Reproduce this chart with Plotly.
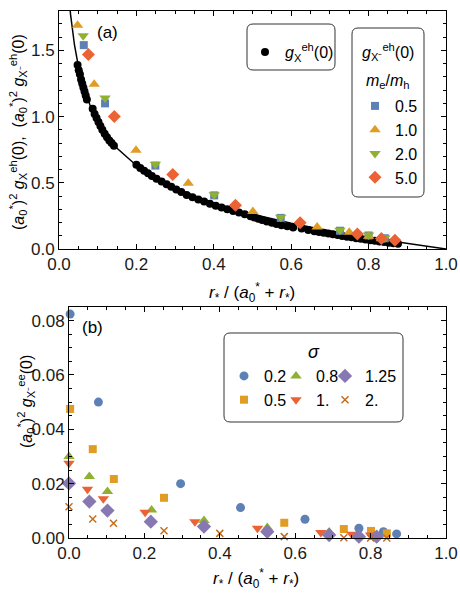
import plotly.graph_objects as go

# ---------------- data: panel (a) ----------------
curve_x = [0.025, 0.03, 0.04, 0.05, 0.06, 0.08, 0.10, 0.125, 0.15, 0.20, 0.25, 0.30,
           0.35, 0.40, 0.45, 0.50, 0.60, 0.70, 0.80, 0.90, 1.00]
curve_y = [1.927, 1.768, 1.541, 1.382, 1.262, 1.087, 0.964, 0.849, 0.761, 0.631, 0.536, 0.461,
           0.400, 0.348, 0.303, 0.263, 0.194, 0.136, 0.0854, 0.0405, 0.0]

dots_x = [0.048, 0.051, 0.054, 0.057, 0.060, 0.063, 0.066, 0.069, 0.072,
          0.087, 0.092, 0.097, 0.102, 0.107, 0.112, 0.118, 0.124, 0.130, 0.136, 0.142,
          0.200, 0.210, 0.220, 0.230, 0.240, 0.252, 0.265, 0.278, 0.290, 0.303, 0.316,
          0.330, 0.345, 0.360, 0.375, 0.390, 0.405, 0.420, 0.435, 0.450, 0.465, 0.480,
          0.495, 0.505, 0.515, 0.525, 0.537, 0.550, 0.562, 0.575, 0.590, 0.605, 0.627,
          0.644, 0.660, 0.672, 0.684, 0.696, 0.708, 0.720, 0.732, 0.744, 0.756, 0.768,
          0.780, 0.792, 0.804, 0.816, 0.828, 0.840, 0.852, 0.864, 0.876]
dots_y = [1.39, 1.35, 1.32, 1.28, 1.25, 1.22, 1.19, 1.16, 1.13,
          1.06, 1.02, 0.99, 0.96, 0.93, 0.90, 0.87, 0.845, 0.82, 0.80, 0.78,
          0.636, 0.612, 0.592, 0.572, 0.552, 0.530, 0.510, 0.490, 0.470, 0.450, 0.430,
          0.408, 0.391, 0.374, 0.358, 0.342, 0.327, 0.313, 0.300, 0.287, 0.275, 0.263,
          0.247, 0.238, 0.229, 0.219, 0.208, 0.198, 0.189, 0.180, 0.171, 0.163, 0.154,
          0.144, 0.135, 0.129, 0.123, 0.117, 0.111, 0.105, 0.099, 0.093, 0.088, 0.082,
          0.077, 0.072, 0.067, 0.062, 0.057, 0.052, 0.048, 0.043, 0.039]

ratio_labels = ["0.5", "1.0", "2.0", "5.0"]
ratio_x = [
    [0.064, 0.119, 0.249, 0.401, 0.573, 0.726, 0.800, 0.842],
    [0.048, 0.091, 0.199, 0.334, 0.501, 0.667, 0.750, 0.800, 0.833],
    [0.0625, 0.119, 0.249, 0.401, 0.573, 0.726, 0.800, 0.842],
    [0.076, 0.143, 0.294, 0.456, 0.623, 0.771, 0.833, 0.868],
]
ratio_y = [
    [1.54, 1.10, 0.63, 0.405, 0.235, 0.138, 0.102, 0.081],
    [1.69, 1.245, 0.745, 0.497, 0.283, 0.166, 0.126, 0.097, 0.078],
    [1.61, 1.14, 0.64, 0.41, 0.240, 0.142, 0.105, 0.083],
    [1.47, 1.00, 0.563, 0.33, 0.198, 0.114, 0.080, 0.066],
]

# ---------------- data: panel (b) ----------------
sigma_labels = ["0.2", "0.5", "0.8", "1.", "1.25", "2."]
sigma_x = [
    [0.003, 0.078, 0.296, 0.455, 0.626, 0.769, 0.834, 0.869],
    [0.003, 0.063, 0.119, 0.252, 0.571, 0.729, 0.801, 0.843],
    [0.0, 0.054, 0.102, 0.219, 0.358, 0.526, 0.690, 0.769],
    [0.0, 0.049, 0.091, 0.202, 0.334, 0.500, 0.668, 0.750, 0.800],
    [0.0, 0.054, 0.102, 0.217, 0.358, 0.526, 0.690, 0.769, 0.816],
    [0.0, 0.063, 0.118, 0.252, 0.400, 0.571, 0.729, 0.800, 0.843],
]
sigma_y = [
    [0.0824, 0.0500, 0.0200, 0.0112, 0.0069, 0.0036, 0.0023, 0.0015],
    [0.0475, 0.0327, 0.0217, 0.0148, 0.0056, 0.0033, 0.0026, 0.0017],
    [0.0300, 0.0226, 0.0171, 0.0103, 0.0064, 0.0039, 0.0022, 0.0013],
    [0.0275, 0.0179, 0.0144, 0.0095, 0.0060, 0.0036, 0.0020, 0.0014, 0.0011],
    [0.0201, 0.0134, 0.0101, 0.0060, 0.0042, 0.0023, 0.0011, 0.0005, 0.0005],
    [0.0115, 0.0070, 0.0054, 0.0027, 0.0017, 0.0005, 0.0001, 0.0000, 0.0000],
]

# ---------------- style ----------------
W, H = 460, 596
FONT = "Liberation Sans, Arial, sans-serif"
C_BLUE, C_ORANGE, C_GREEN = "#5E81B5", "#E19C24", "#8FB032"
C_RED, C_PURPLE, C_BROWN = "#EB6235", "#8778B3", "#C56E1A"

ratio_style = [("square", C_BLUE, 8), ("triangle-up", C_ORANGE, 10),
               ("triangle-down", C_GREEN, 10), ("diamond", C_RED, 10)]
sigma_style = [("circle", C_BLUE, 9), ("square", C_ORANGE, 8), ("triangle-up", C_GREEN, 10),
               ("triangle-down", C_RED, 10), ("diamond", C_PURPLE, 11), ("x-thin", C_BROWN, 7)]
sigma_legend = ["legend3", "legend3", "legend4", "legend4", "legend5", "legend5"]

fig = go.Figure()

fig.add_trace(go.Scatter(x=curve_x, y=curve_y, mode="lines", line=dict(color="black", width=1.5),
                         showlegend=False, xaxis="x", yaxis="y", hoverinfo="skip"))
fig.add_trace(go.Scatter(x=dots_x, y=dots_y, mode="markers", marker=dict(color="black", size=8),
                         name="<i>g</i><sub>X</sub><sup>eh</sup>(0)", legend="legend",
                         xaxis="x", yaxis="y"))
for lab, xs, ys, (sym, col, sz) in zip(ratio_labels, ratio_x, ratio_y, ratio_style):
    fig.add_trace(go.Scatter(x=xs, y=ys, mode="markers", name=lab, legend="legend2",
                             marker=dict(symbol=sym, color=col, size=sz, line=dict(width=0)),
                             xaxis="x", yaxis="y", cliponaxis=False))

for lab, xs, ys, (sym, col, sz), lg in zip(sigma_labels, sigma_x, sigma_y, sigma_style, sigma_legend):
    mk = dict(symbol=sym, color=col, size=sz, line=dict(width=0))
    if sym == "x-thin":
        mk["line"] = dict(width=1.5, color=col)
    fig.add_trace(go.Scatter(x=xs, y=ys, mode="markers", name=lab, legend=lg, marker=mk,
                             xaxis="x2", yaxis="y2", cliponaxis=False))


def px_x(p):
    return p / W


def px_y(p):
    return 1 - p / H


def axis(domain, anchor, rng, dtick, minor, fmt):
    return dict(domain=domain, anchor=anchor, range=rng, dtick=dtick, tick0=0, tickformat=fmt,
                automargin=False,
                showline=True, linecolor="black", linewidth=1, mirror="allticks",
                ticks="inside", ticklen=5, tickwidth=1, tickcolor="black",
                minor=dict(ticks="inside", ticklen=3, dtick=minor, tick0=0, tickcolor="black",
                           tickwidth=1, showgrid=False),
                showgrid=False, zeroline=False,
                tickfont=dict(family=FONT, size=17, color="#1a1a1a"))


def rrect(x0, y0, x1, y1, r=6):
    X = lambda p: f"{px_x(p):.5f}"
    Y = lambda p: f"{px_y(p):.5f}"
    return (f"M {X(x0 + r)},{Y(y0)} L {X(x1 - r)},{Y(y0)} Q {X(x1)},{Y(y0)} {X(x1)},{Y(y0 + r)} "
            f"L {X(x1)},{Y(y1 - r)} Q {X(x1)},{Y(y1)} {X(x1 - r)},{Y(y1)} "
            f"L {X(x0 + r)},{Y(y1)} Q {X(x0)},{Y(y1)} {X(x0)},{Y(y1 - r)} "
            f"L {X(x0)},{Y(y0 + r)} Q {X(x0)},{Y(y0)} {X(x0 + r)},{Y(y0)} Z")


def note(text, x, y, size, angle=0):
    return dict(text=text, x=px_x(x), y=px_y(y), xref="paper", yref="paper", showarrow=False,
                xanchor="center", yanchor="middle", textangle=angle,
                font=dict(family=FONT, size=size, color="black"))


leg_common = dict(bgcolor="rgba(0,0,0,0)", borderwidth=0, font=dict(family=FONT, size=16, color="black"),
                  xanchor="left", yanchor="top", itemclick=False, itemdoubleclick=False)

XTITLE = "<i>r</i><sub>*</sub> / (<i>a</i><sub>0</sub><sup>*</sup> + <i>r</i><sub>*</sub>)"

fig.update_layout(
    template="none",
    width=W, height=H, margin=dict(l=0, r=0, t=0, b=0, pad=0, autoexpand=False),
    paper_bgcolor="white", plot_bgcolor="white",
    xaxis=axis([px_x(59), px_x(446)], "y", [0, 1], 0.2, 0.05, ".1f"),
    yaxis=axis([px_y(249), px_y(10.7)], "x", [0, 1.8], 0.5, 0.1, ".1f"),
    xaxis2=axis([px_x(69), px_x(446)], "y2", [0, 1], 0.2, 0.05, ".1f"),
    yaxis2=axis([px_y(538), px_y(307)], "x2", [0, 0.085], 0.02, 0.005, ".2f"),
    legend=dict(x=px_x(245), y=px_y(35), **leg_common),
    legend2=dict(x=px_x(355), y=px_y(89), **leg_common),
    legend3=dict(x=px_x(224), y=px_y(359), **leg_common),
    legend4=dict(x=px_x(276), y=px_y(359), **leg_common),
    legend5=dict(x=px_x(325), y=px_y(359), **leg_common),
    shapes=[
        dict(type="path", xref="paper", yref="paper", path=rrect(247, 24, 335, 70),
             line=dict(color="#333333", width=1)),
        dict(type="path", xref="paper", yref="paper", path=rrect(352, 28, 424, 197),
             line=dict(color="#333333", width=1)),
        dict(type="path", xref="paper", yref="paper", path=rrect(224, 333, 403, 422),
             line=dict(color="#333333", width=1)),
    ],
    annotations=[
        note("(a)", 107, 33, 17),
        note("(b)", 92, 327, 17),
        note("<i>g</i><sub>X⁻</sub><sup>eh</sup>(0)", 388, 52, 16),
        note("<i>m</i><sub>e</sub>/<i>m</i><sub>h</sub>", 388, 81, 16),
        note("<i>σ</i>", 314, 352, 18),
        note(XTITLE, 252, 292, 17),
        note(XTITLE, 256, 578, 17),
        note("(<i>a</i><sub>0</sub><sup>*</sup>)<sup>2</sup> <i>g</i><sub>X</sub><sup>eh</sup>(0),  "
             "(<i>a</i><sub>0</sub><sup>*</sup>)<sup>2</sup> <i>g</i><sub>X⁻</sub><sup>eh</sup>(0)",
             18, 132, 16, -90),
        note("(<i>a</i><sub>0</sub><sup>*</sup>)<sup>2</sup> <i>g</i><sub>X⁻</sub><sup>ee</sup>(0)",
             26, 402, 16, -90),
    ],
)

fig.write_html("out.html")
